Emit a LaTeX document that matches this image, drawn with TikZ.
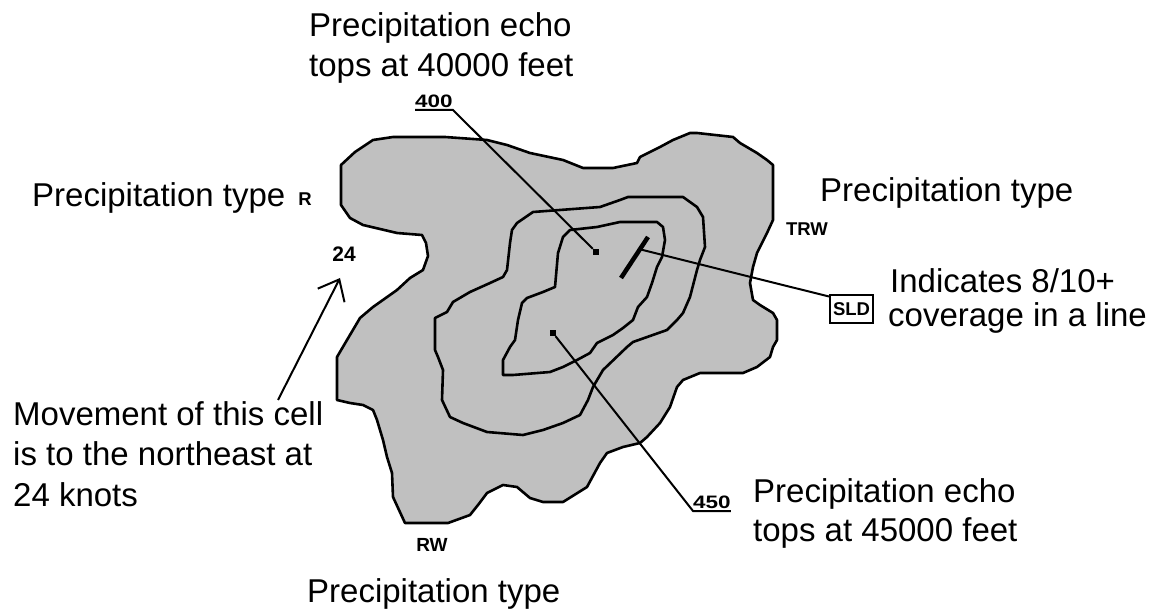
\documentclass[tikz,border=0pt]{standalone}
\usepackage{fontspec}
\setmainfont{Liberation Sans}
\newfontfamily\tagdigits[FakeStretch=1.25]{Liberation Sans}
\usetikzlibrary{arrows.meta,calc}
\definecolor{cellgray}{HTML}{C0C0C0}
\tikzset{
  lbl/.style={font=\fontsize{33}{40}\selectfont, inner sep=0pt, anchor=base west},
  tagtxt/.style={font=\bfseries\fontsize{18.5}{22}\selectfont, inner sep=0pt},
  tagnum/.style={font=\tagdigits\bfseries\fontsize{18}{22}\selectfont, inner xsep=0pt, inner ysep=2pt, anchor=south west},
  contour/.style={line width=2.6pt, line join=round},
  leader/.style={line width=2pt},
  dotmark/.style={fill=black, rectangle, minimum size=6pt, inner sep=0pt},
  sldbox/.style={draw, line width=2pt, minimum width=43pt, minimum height=28pt},
}
\begin{document}
\begin{tikzpicture}[x=1pt,y=-1pt]
\fill[white] (0,0) rectangle (1159,609);
\useasboundingbox (0,0) rectangle (1159,609);

% outer echo area
\filldraw[contour, fill=cellgray]
 (393,137) -- (445,137) -- (487,140) -- (507,145) -- (530,153) -- (563,160) -- (583,168)
 -- (613,168) -- (637,163) -- (640,157) -- (660,147) -- (673,140) -- (690,133) -- (697,133)
 -- (733,137) -- (740,143) -- (757,153) -- (767,160) -- (773,165) -- (773,220) -- (767,233)
 -- (757,253) -- (753,267) -- (750,283) -- (753,300) -- (760,305) -- (773,313) -- (777,320)
 -- (777,340) -- (773,347) -- (770,357) -- (757,367) -- (743,373) -- (700,373) -- (683,380)
 -- (677,387) -- (670,407) -- (660,423) -- (647,437) -- (640,443) -- (623,447) -- (607,453)
 -- (600,463) -- (587,487) -- (563,502) -- (543,502) -- (530,498) -- (517,487) -- (503,485)
 -- (487,493) -- (478,505) -- (470,515) -- (448,523) -- (405,523) -- (393,497) -- (392,473)
 -- (387,457) -- (383,440) -- (377,420) -- (373,410) -- (363,405) -- (350,403) -- (337,400)
 -- (337,357) -- (347,340) -- (360,318) -- (373,307) -- (397,290) -- (410,278) -- (423,270)
 -- (428,256) -- (426,243) -- (422,235) -- (397,233) -- (363,225) -- (350,218) -- (341,205)
 -- (341,165) -- (355,152) -- (373,140) -- cycle;

% middle contour
\draw[contour]
 (533,212) -- (600,207) -- (620,200) -- (628,197) -- (683,197) -- (697,207) -- (703,217)
 -- (705,247) -- (700,260) -- (697,270) -- (690,297) -- (683,313) -- (677,320) -- (667,330)
 -- (633,342) -- (627,347) -- (603,370) -- (593,387) -- (588,400) -- (580,415) -- (563,423)
 -- (543,430) -- (523,435) -- (487,432) -- (463,423) -- (450,417) -- (442,400) -- (443,370)
 -- (438,357) -- (435,350) -- (435,318) -- (447,312) -- (453,302) -- (470,292) -- (490,283)
 -- (503,277) -- (507,270) -- (510,243) -- (512,230) -- (517,223) -- cycle;

% inner contour
\draw[contour]
 (570,230) -- (597,227) -- (620,222) -- (657,222) -- (663,227) -- (665,240) -- (662,257)
 -- (657,267) -- (652,283) -- (647,297) -- (638,307) -- (633,320) -- (623,328) -- (613,335)
 -- (597,343) -- (590,353) -- (577,360) -- (563,367) -- (550,372) -- (513,375) -- (503,375)
 -- (503,360) -- (510,347) -- (515,340) -- (518,320) -- (522,303) -- (527,298) -- (543,292)
 -- (555,287) -- (558,253) -- (563,237) -- cycle;

% squall line mark
\coordinate (sq1) at (648,237);
\coordinate (sq2) at (621,278);
\draw[line width=4.5pt] (sq1) -- (sq2);
\coordinate (sqmid) at ($(sq1)!0.3!(sq2)$);

% echo top markers
\node[dotmark] (d400) at (596,252) {};
\node[dotmark] (d450) at (553,333) {};
\node[tagnum] (t400) at (415,110) {400};
\node[tagnum] (t450) at (693,511) {450};
\draw[leader] (t400.south west) -- (t400.south east) -- (d400);
\draw[leader] (d450) -- (t450.south west) -- (t450.south east);

% SLD
\node[sldbox, tagtxt] (sld) at (851.5,309) {SLD};
\draw[leader] (sqmid) -- (sld.151);

% precipitation type tags
\node[tagtxt] (tagR) at (305,199) {R};
\node[tagtxt] (tagTRW) at (807,229) {TRW};
\node[font=\bfseries\fontsize{19}{22}\selectfont, inner sep=0pt] (tagRW) at (432,545) {RW};

% movement
\node[font=\bfseries\fontsize{21}{24}\selectfont, inner sep=0pt] (tag24) at (344,254) {24};
\coordinate (mvtail) at (278,400);
\coordinate (mvtip) at (340,278);
\draw[line width=2pt, -{Straight Barb[length=18pt,width=30pt]}] (mvtail) -- (mvtip);

% text labels
\node[lbl] (echoA1) at (309,37) {Precipitation echo};
\node[lbl] (echoA2) at (309,77) {tops at 40000 feet};
\node[lbl] (typeL) at (32,207) {Precipitation type};
\node[lbl] (typeR) at (820,202) {Precipitation type};
\node[lbl] (ind1) at (890,293) {Indicates 8/10+};
\node[lbl] (ind2) at (888,327) {coverage in a line};
\node[lbl] (mv1) at (13,425) {Movement of this cell};
\node[lbl] (mv2) at (13,465) {is to the northeast at};
\node[lbl] (mv3) at (13,506) {24 knots};
\node[lbl] (echoB1) at (753,502) {Precipitation echo};
\node[lbl] (echoB2) at (753,541) {tops at 45000 feet};
\node[lbl] (typeB) at (307,602) {Precipitation type};
\end{tikzpicture}
\end{document}
